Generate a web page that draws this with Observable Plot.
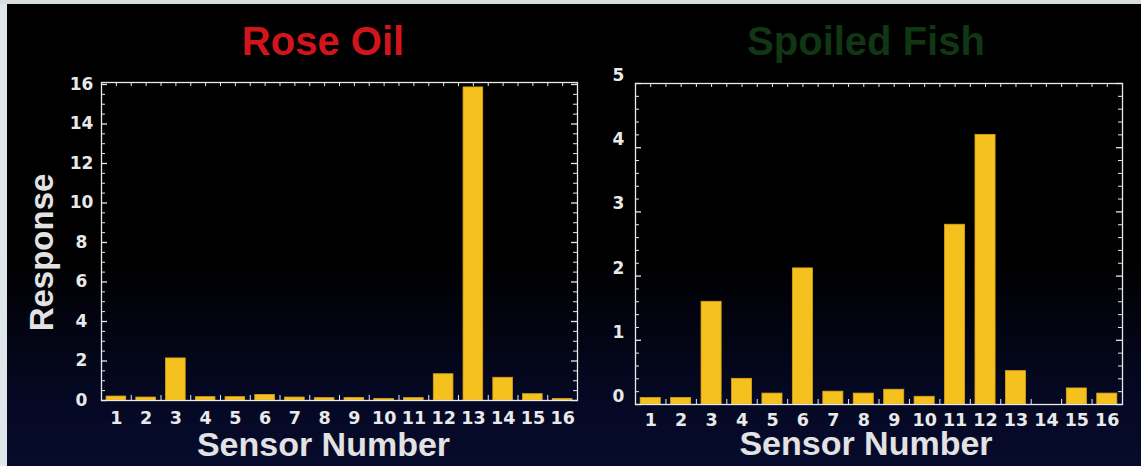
<!DOCTYPE html>
<html>
<head>
<meta charset="utf-8">
<script src="https://cdn.jsdelivr.net/npm/d3@7"></script>
<script src="https://cdn.jsdelivr.net/npm/@observablehq/plot@0.6"></script>
<style>
  html, body { margin: 0; padding: 0; background: #000; }
  #wrap {
    position: relative; width: 1141px; height: 466px; overflow: hidden;
    background: linear-gradient(#000 0%, #000 55%, #050823 85%, #070b2c 100%);
    font-family: "Liberation Sans", Arial, Helvetica, sans-serif;
  }
  #edgeL { position: absolute; left: 0; top: 0; width: 7px; height: 466px; background: #dfe6ea; }
  #edgeT { position: absolute; left: 0; top: 0; width: 1141px; height: 4px; background: #d8dde0; }
  .panel { position: absolute; top: 0; }
  #titles { position: absolute; left: 0; top: 0; }
</style>
</head>
<body>
<div id="wrap">
  <div id="left" class="panel" style="left:0px"></div>
  <div id="right" class="panel" style="left:580px"></div>
  <svg id="titles" width="1141" height="80">
    <text x="323" y="55" text-anchor="middle" font-family="Liberation Sans, Arial, sans-serif" font-weight="bold" font-size="40" fill="#d2151d">Rose Oil</text>
    <text x="866" y="55" text-anchor="middle" font-family="Liberation Sans, Arial, sans-serif" font-weight="bold" font-size="40" fill="#10371300" style="fill:#103713">Spoiled Fish</text>
  </svg>
  <div id="edgeL"></div>
  <div id="edgeT"></div>
</div>
<script>
// ---- data ----
const sensors = [1, 2, 3, 4, 5, 6, 7, 8, 9, 10, 11, 12, 13, 14, 15, 16];
const roseOil = [0.2, 0.15, 2.13, 0.17, 0.17, 0.28, 0.15, 0.12, 0.13, 0.08, 0.12, 1.33, 15.85, 1.15, 0.32, 0.08];
const spoiledFish = [0.1, 0.1, 1.6, 0.4, 0.17, 2.12, 0.2, 0.17, 0.23, 0.12, 2.8, 4.2, 0.52, 0, 0.25, 0.17];
const roseTicks = [0, 2, 4, 6, 8, 10, 12, 14, 16];
const fishTicks = [0, 1, 2, 3, 4, 5];
const xLabel = "Sensor Number";
const yLabel = "Response";

const roseData = sensors.map((s, i) => ({s, v: roseOil[i]}));
const fishData = sensors.map((s, i) => ({s, v: spoiledFish[i]}));

const white = "#e9e9e9";
const barFill = "#f4c11e";
const barStroke = "#dba314";
const font = "Liberation Sans, Arial, Helvetica, sans-serif";
const tickFont = "DejaVu Sans, Verdana, sans-serif";

function panel({data, width, height, mL, mR, mT, mB, yDomain, yTicks, minorStep, majorStep,
                yLabelDx, yLabelDy, xLabelDy, xTitleDy, xTitleDx, withYTitle}) {
  const fw = width - mL - mR;
  const fh = height - mT - mB;
  const minor = d3.range(yDomain[0], yDomain[1] + 1e-9, minorStep).filter(v => Math.abs(v / majorStep - Math.round(v / majorStep)) > 1e-6);
  const major = d3.range(0, yDomain[1] + 1e-9, majorStep);
  const halfX = d3.range(0.5, 16.51, 0.5);
  const bandX = d3.range(0.5, 16.51, 1);
  const marks = [
    Plot.rectY(data, {x1: d => d.s - 0.33, x2: d => d.s + 0.33, y: "v", fill: barFill, stroke: barStroke, strokeWidth: 0.8}),
    // inward frame ticks
    Plot.ruleY(minor, {y: d => d, insetRight: fw - 4, stroke: white, strokeWidth: 1}),
    Plot.ruleY(major, {y: d => d, insetRight: fw - 6, stroke: white, strokeWidth: 1.3}),
    Plot.ruleY(minor, {y: d => d, insetLeft: fw - 4, stroke: white, strokeWidth: 1}),
    Plot.ruleY(major, {y: d => d, insetLeft: fw - 6, stroke: white, strokeWidth: 1.3}),
    Plot.ruleX(halfX, {x: d => d, insetBottom: fh - 4, stroke: white, strokeWidth: 1}),
    Plot.ruleX(bandX, {x: d => d, insetTop: fh - 5, stroke: white, strokeWidth: 1}),
    Plot.frame({stroke: white, strokeWidth: 1.3}),
    // tick labels
    Plot.text(yTicks, {y: d => d, text: d => String(d), frameAnchor: "left", dx: yLabelDx, dy: yLabelDy,
      textAnchor: "middle", lineAnchor: "middle", fontSize: 17, fontWeight: "bold", fontFamily: tickFont, fill: white}),
    Plot.text(sensors, {x: d => d, text: d => String(d), frameAnchor: "bottom", lineAnchor: "bottom", dy: xLabelDy,
      fontSize: 17.5, fontWeight: "bold", fontFamily: tickFont, fill: white}),
    Plot.text([xLabel], {text: d => d, frameAnchor: "bottom", lineAnchor: "bottom", dx: xTitleDx, dy: xTitleDy,
      fontSize: 34, fontWeight: "bold", fill: "#e2e2e2"})
  ];
  if (withYTitle) {
    marks.push(Plot.text([yLabel], {text: d => d, frameAnchor: "left", dx: -49, dy: 11, rotate: -90,
      lineAnchor: "bottom", textAnchor: "middle", fontSize: 33, fontWeight: "bold", fill: "#e2e2e2"}));
  }
  return Plot.plot({
    width, height,
    marginLeft: mL, marginRight: mR, marginTop: mT, marginBottom: mB,
    style: {background: "transparent", color: white, fontFamily: font, overflow: "visible"},
    x: {type: "linear", domain: [0.5, 16.5], axis: null},
    y: {domain: yDomain, axis: null},
    marks
  });
}

document.getElementById("left").append(panel({
  data: roseData, width: 580, height: 466, mL: 101, mR: 3, mT: 82, mB: 66,
  yDomain: [0, 16.1], yTicks: roseTicks, minorStep: 0.5, majorStep: 2,
  yLabelDx: -20, yLabelDy: 0, xLabelDy: 23, xTitleDy: 55, xTitleDx: -16, withYTitle: true
}));

document.getElementById("right").append(panel({
  data: fishData, width: 561, height: 466, mL: 55, mR: 19, mT: 83, mB: 62,
  yDomain: [0, 5], yTicks: fishTicks, minorStep: 0.2, majorStep: 1,
  yLabelDx: -17, yLabelDy: -8, xLabelDy: 21, xTitleDy: 50, xTitleDx: -13, withYTitle: false
}));
</script>
</body>
</html>
